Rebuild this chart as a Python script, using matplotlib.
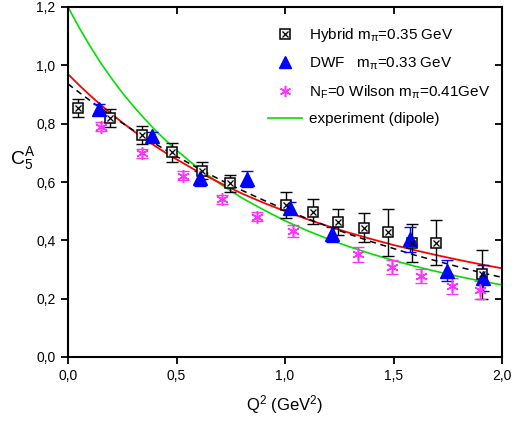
import matplotlib
matplotlib.use('Agg')
import matplotlib.pyplot as plt
import matplotlib.lines as mlines
from matplotlib.legend_handler import HandlerTuple
from matplotlib.ticker import FuncFormatter

plt.rcParams['font.family'] = ['Liberation Sans', 'DejaVu Sans']
plt.rcParams['mathtext.fontset'] = 'custom'
plt.rcParams['mathtext.rm'] = 'Liberation Sans'
plt.rcParams['mathtext.it'] = 'Liberation Sans'
plt.rcParams['mathtext.sf'] = 'Liberation Sans'

# ---- data ----
hyb_q2 = [0.046, 0.194, 0.339, 0.478, 0.616, 0.747, 1.005, 1.127, 1.243, 1.364, 1.476, 1.584, 1.696, 1.906]
hyb_c5 = [0.854, 0.818, 0.761, 0.702, 0.639, 0.595, 0.521, 0.498, 0.464, 0.443, 0.427, 0.392, 0.392, 0.283]
hyb_err = [0.030, 0.031, 0.032, 0.032, 0.030, 0.030, 0.043, 0.043, 0.044, 0.050, 0.080, 0.065, 0.076, 0.084]

dwf_q2 = [0.144, 0.389, 0.608, 0.823, 1.023, 1.215, 1.576, 1.748, 1.914]
dwf_c5 = [0.851, 0.758, 0.613, 0.610, 0.510, 0.421, 0.403, 0.296, 0.272]
dwf_err = [0.016, 0.015, 0.025, 0.027, 0.020, 0.025, 0.043, 0.037, 0.045]

wil_q2 = [0.151, 0.342, 0.528, 0.711, 0.870, 1.035, 1.338, 1.492, 1.627, 1.768, 1.899]
wil_c5 = [0.790, 0.698, 0.622, 0.541, 0.481, 0.432, 0.352, 0.309, 0.278, 0.243, 0.230]
wil_err = [0.015, 0.015, 0.015, 0.015, 0.015, 0.020, 0.026, 0.025, 0.025, 0.027, 0.032]

curve_q2 = [0.0, 0.05, 0.1, 0.15, 0.2, 0.25, 0.3, 0.35, 0.4, 0.45, 0.5, 0.6, 0.7, 0.8, 0.9, 1.0,
            1.1, 1.2, 1.3, 1.4, 1.5, 1.6, 1.7, 1.8, 1.9, 2.0]
dipole_exp = [1.200, 1.131, 1.068, 1.009, 0.956, 0.906, 0.861, 0.819, 0.779, 0.743, 0.709,
              0.647, 0.594, 0.546, 0.505, 0.467,
              0.434, 0.404, 0.377, 0.353, 0.331, 0.311, 0.293, 0.276, 0.261, 0.247]
red_fit = [0.970, 0.933, 0.898, 0.865, 0.834, 0.804, 0.776, 0.749, 0.724, 0.700, 0.678,
           0.635, 0.597, 0.561, 0.529, 0.500,
           0.473, 0.448, 0.425, 0.404, 0.384, 0.366, 0.349, 0.333, 0.318, 0.304]
dash_fit = [0.936, 0.908, 0.880, 0.853, 0.828, 0.802, 0.778, 0.755, 0.732, 0.710, 0.688,
            0.647, 0.608, 0.572, 0.538, 0.506,
            0.475, 0.447, 0.420, 0.395, 0.372, 0.349, 0.329, 0.309, 0.290, 0.273]

x_ticks = [0.0, 0.5, 1.0, 1.5, 2.0]
y_ticks = [0.0, 0.2, 0.4, 0.6, 0.8, 1.0, 1.2]

# ---- figure ----
fig = plt.figure(figsize=(5.15, 4.21), dpi=100)
ax = fig.add_axes([68/515, 1-357/421, 434/515, 350/421])

green = '#00e000'
magenta = '#ff33ff'
blue = '#0000ff'

ax.plot(curve_q2, dipole_exp, color=green, lw=1.2, zorder=2)
ax.plot(curve_q2, red_fit, color='#ff0000', lw=1.3, zorder=2)
ax.plot(curve_q2, dash_fit, color='black', lw=1.1, ls=(0, (4, 3)), zorder=2)

# Hybrid
ax.errorbar(hyb_q2, hyb_c5, yerr=hyb_err, fmt='none', ecolor='black', elinewidth=1.0,
            capsize=4, capthick=1.0, zorder=3)
h_sq = ax.plot(hyb_q2, hyb_c5, ls='none', marker='s', ms=7.5, mfc='#f0f0f0', mec='black', mew=1.1, zorder=4)[0]
h_x = ax.plot(hyb_q2, hyb_c5, ls='none', marker='x', ms=5, mec='black', mew=0.9, zorder=5)[0]

# DWF
ax.errorbar(dwf_q2, dwf_c5, yerr=dwf_err, fmt='none', ecolor=blue, elinewidth=1.0,
            capsize=4, capthick=1.0, zorder=3)
d_tri = ax.plot(dwf_q2, dwf_c5, ls='none', marker='^', ms=9.5, mfc=blue, mec=blue, zorder=4)[0]

# Wilson
ax.errorbar(wil_q2, wil_c5, yerr=wil_err, fmt='none', ecolor=magenta, elinewidth=1.0,
            capsize=4, capthick=1.0, zorder=3)
w_ast = ax.plot(wil_q2, wil_c5, ls='none', marker=(6, 2, 0), ms=9, mec=magenta, mew=1.1, zorder=4)[0]

ax.set_xlim(0, 2.0)
ax.set_ylim(0, 1.2)
ax.set_xticks(x_ticks)
ax.set_yticks(y_ticks)
fmt = FuncFormatter(lambda v, p: f'{v:.1f}'.replace('.', ','))
ax.xaxis.set_major_formatter(fmt)
ax.yaxis.set_major_formatter(fmt)
ax.tick_params(axis='both', which='major', direction='out', length=5, width=1.3,
               labelsize=10, pad=4)
ax.tick_params(top=True, right=True)
for t in ax.xaxis.get_major_ticks():
    t.tick2line.set_marker(mlines.TICKDOWN)
for t in ax.yaxis.get_major_ticks():
    t.tick2line.set_marker(mlines.TICKLEFT)
for s in ax.spines.values():
    s.set_linewidth(1.5)

ax.set_xlabel('Q$^2$ (GeV$^2$)', fontsize=12, labelpad=7)
ax.set_ylabel('C$_5^A$', fontsize=14, rotation=0)
ax.yaxis.set_label_coords(-0.105, 0.53)

leg_line = plt.Line2D([], [], color=green, lw=1.2)
leg = ax.legend([(h_sq, h_x), d_tri, w_ast, leg_line],
                ['Hybrid m$_\\pi$=0.35 GeV', 'DWF   m$_\\pi$=0.33 GeV',
                 'N$_F$=0 Wilson m$_\\pi$=0.41GeV', 'experiment (dipole)'],
                handler_map={tuple: HandlerTuple(ndivide=1, pad=0)},
                loc='upper left', bbox_to_anchor=(0.461, 0.945), borderaxespad=0, borderpad=0,
                frameon=False, fontsize=11, handlelength=2.2, handletextpad=0.45,
                labelspacing=0.74, markerscale=0.9)

fig.savefig('out.png', dpi=100)
